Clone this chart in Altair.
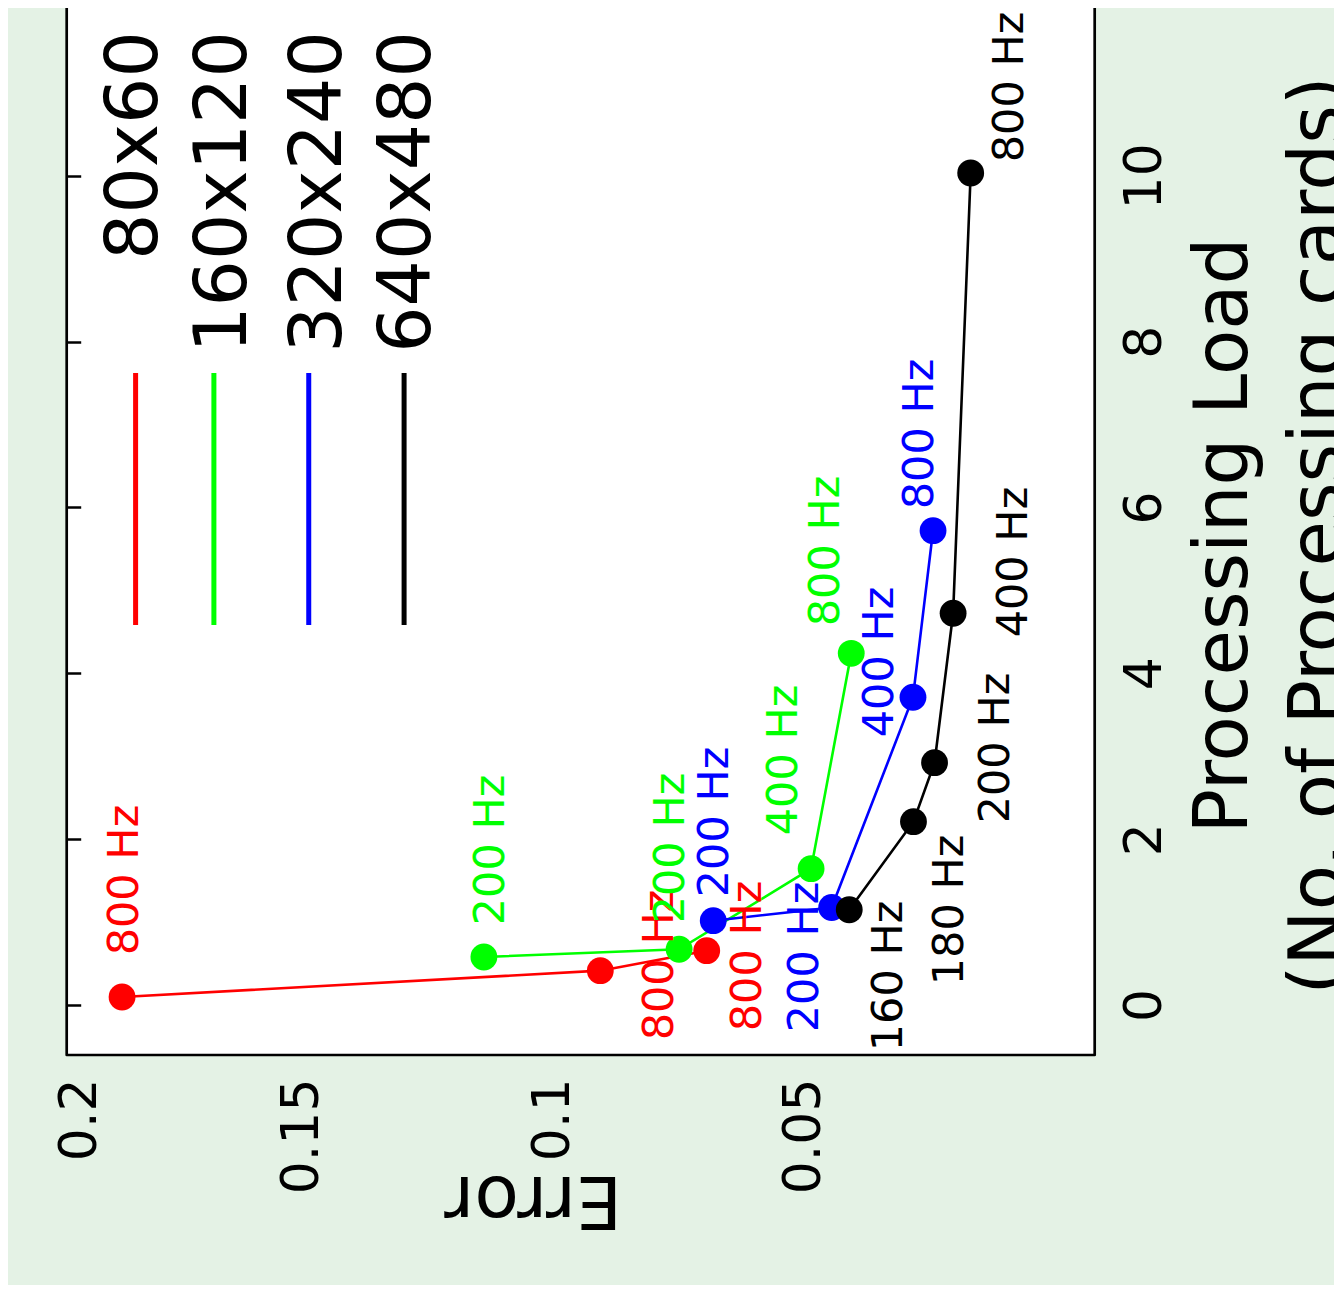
import altair as alt
import pandas as pd

# ---------------- data ----------------
series = ["80x60", "160x120", "320x240", "640x480"]
colors = ["#ff0000", "#00ff00", "#0000ff", "#000000"]

# measurements (Error, Processing load) per resolution
err_80 = [0.1857, 0.0904, 0.0692]
load_80 = [0.096, 0.414, 0.655]
err_160 = [0.1136, 0.0747, 0.0484, 0.0404]
load_160 = [0.579, 0.672, 1.644, 4.241]
err_320 = [0.0679, 0.0443, 0.0281, 0.0241]
load_320 = [1.017, 1.176, 3.711, 5.720]
err_640 = [0.0408, 0.0280, 0.0238, 0.0201, 0.0166]
load_640 = [1.149, 2.211, 2.922, 4.724, 10.034]

# point annotations (frequency) and where they sit
lbl_80 = ["800 Hz", "800 Hz", "800 Hz"]
lbl_err_80 = [0.1851, 0.0785, 0.0610]
lbl_load_80 = [1.507, 0.482, 0.591]
lbl_160 = ["200 Hz", "200 Hz", "400 Hz", "800 Hz"]
lbl_err_160 = [0.1122, 0.0763, 0.0537, 0.0455]
lbl_load_160 = [1.869, 1.893, 2.955, 5.475]
lbl_320 = ["200 Hz", "200 Hz", "400 Hz", "800 Hz"]
lbl_err_320 = [0.0675, 0.0497, 0.0346, 0.0266]
lbl_load_320 = [2.207, 0.579, 4.137, 6.886]
lbl_640 = ["160 Hz", "180 Hz", "200 Hz", "400 Hz", "800 Hz"]
lbl_err_640 = [0.0328, 0.0207, 0.0115, 0.0079, 0.0088]
lbl_load_640 = [0.350, 1.146, 3.099, 5.342, 11.071]

# legend placement (inside plot, in data units)
leg_line_err = [0.1830, 0.1674, 0.1485, 0.1295]
leg_text_err = [0.1831, 0.1653, 0.1464, 0.1287]
leg_line_top = 7.622
leg_line_bot = 4.583
leg_text_load = 11.746

x_domain = [-0.00811, 0.19673]
y_domain = [-0.603, 12.289]
x_ticks = [0.05, 0.1, 0.15, 0.1942]
y_ticks = [0, 2, 4, 6, 8, 10]

# ---------------- tables ----------------
pts_rows, lbl_rows = [], []
for s, es, ls in zip(series, [err_80, err_160, err_320, err_640],
                     [load_80, load_160, load_320, load_640]):
    for i, (e, l) in enumerate(zip(es, ls)):
        pts_rows.append({"series": s, "idx": i, "err": e, "load": l})
for s, ts, es, ls in zip(series, [lbl_80, lbl_160, lbl_320, lbl_640],
                         [lbl_err_80, lbl_err_160, lbl_err_320, lbl_err_640],
                         [lbl_load_80, lbl_load_160, lbl_load_320, lbl_load_640]):
    for t, e, l in zip(ts, es, ls):
        lbl_rows.append({"series": s, "text": t, "err": e, "load": l})
pts = pd.DataFrame(pts_rows)
lbls = pd.DataFrame(lbl_rows)
leg = pd.DataFrame({
    "series": series,
    "lerr": leg_line_err,
    "terr": leg_text_err,
    "ltop": [leg_line_top] * 4,
    "lbot": [leg_line_bot] * 4,
    "tload": [leg_text_load] * 4,
})

FONT = "DejaVu Sans"
color = alt.Color("series:N", scale=alt.Scale(domain=series, range=colors), legend=None)

x_scale = alt.Scale(domain=x_domain, reverse=True, nice=False, zero=False)
y_scale = alt.Scale(domain=y_domain, nice=False, zero=False)

x_axis = alt.Axis(
    values=x_ticks, format="~g",
    labelExpr="datum.value > 0.19 ? '0.2' : datum.label",
    labelAngle=270, labelAlign="right", labelBaseline="middle",
    labelFont=FONT, labelFontSize=52, labelColor="black", labelPadding=23,
    ticks=False, tickSize=0, domain=False,
    grid=True, gridColor="black", gridWidth=2.5, gridDash=[16, 4000],
    gridOpacity={"condition": {"test": "datum.value > 0.19", "value": 0}, "value": 1},
    title="Error", titleFont=FONT, titleFontSize=73, titleFontWeight="normal",
    titleColor="black", titleAngle=180, titleAlign="center", titleBaseline="alphabetic",
    titleX=466, titleY=122,
)
y_axis = alt.Axis(
    orient="right", values=y_ticks, format="d",
    labelAngle=270, labelAlign="center", labelBaseline="top",
    labelFont=FONT, labelFontSize=52, labelColor="black", labelPadding=25,
    ticks=False, tickSize=0, domain=False,
    grid=True, gridColor="black", gridWidth=2.5, gridDash=[14, 4000],
    title=["Processing Load", "(No. of Processing cards)"],
    titleFont=FONT, titleFontSize=74, titleFontWeight="normal", titleColor="black",
    titleAngle=270, titleAlign="center", titleBaseline="top", titleLineHeight=95,
    titleX=94, titleY=549,
)

base = alt.Chart(pts).encode(
    x=alt.X("err:Q", scale=x_scale, axis=x_axis),
    y=alt.Y("load:Q", scale=y_scale, axis=y_axis),
    color=color,
)
lines = base.mark_line(strokeWidth=2.6).encode(detail="series:N", order=alt.Order("idx:Q"))
dots = base.mark_circle(size=720, opacity=1)

labels = alt.Chart(lbls).mark_text(
    angle=270, align="center", baseline="middle", font=FONT, fontSize=43
).encode(x=alt.X("err:Q", scale=x_scale), y=alt.Y("load:Q", scale=y_scale),
         text="text:N", color=color)

leg_lines = alt.Chart(leg).mark_rule(strokeWidth=5).encode(
    x=alt.X("lerr:Q", scale=x_scale), y=alt.Y("ltop:Q", scale=y_scale),
    y2="lbot:Q", color=color)
leg_text = alt.Chart(leg).mark_text(
    angle=270, align="right", baseline="middle", font=FONT, fontSize=73, color="black"
).encode(x=alt.X("terr:Q", scale=x_scale), y=alt.Y("tload:Q", scale=y_scale), text="series:N")

chart = alt.layer(lines, dots, labels, leg_lines, leg_text).properties(
    width=1028, height=1069,
    background="#e4f2e5",
    padding={"left": 58.7, "top": -22, "right": 239, "bottom": 230},
    autosize=alt.AutoSizeParams(type="none"),
).configure_view(stroke="black", strokeWidth=2.7, fill="white", strokeJoin="round")

chart.save("out.html", embed_options={"renderer": "svg", "actions": False})
